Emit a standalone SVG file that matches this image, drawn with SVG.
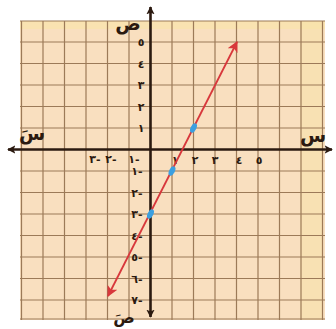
<svg xmlns="http://www.w3.org/2000/svg" width="336" height="329" viewBox="0 0 336 329">
<defs>
<style>
.grid line{stroke:#9c7a58;stroke-width:1.2}
.axis{stroke:#2b1a10;stroke-width:2.6;fill:none}
.num{font-family:"DejaVu Sans",sans-serif;font-size:11px;font-weight:bold;fill:#2b1a10;text-anchor:middle;direction:ltr;unicode-bidi:bidi-override}
.lbl{font-family:"DejaVu Sans",sans-serif;font-size:19px;font-weight:bold;fill:#2b1a10;text-anchor:middle}
.fn{stroke:#d8383c;stroke-width:1.8;fill:none}
.pt{fill:#3b9fe0}
</style>
<marker id="ah" viewBox="0 0 10 10" refX="9" refY="5" markerWidth="3.2" markerHeight="3.2" orient="auto-start-reverse" markerUnits="strokeWidth">
<path d="M0,0 L10,5 L0,10 L2.5,5 z" fill="#2b1a10"/>
</marker>
<marker id="rh" viewBox="0 0 10 10" refX="9" refY="5" markerWidth="6" markerHeight="6" orient="auto-start-reverse" markerUnits="strokeWidth">
<path d="M0,0 L10,5 L0,10 L2.5,5 z" fill="#d8383c"/>
</marker>
</defs>
<rect width="336" height="329" fill="#ffffff"/>
<g id="paper">
<rect x="20" y="21" width="305" height="299" fill="#f9dfbf"/>
<rect x="20" y="21" width="305" height="8" fill="#f8e4a8" opacity="0.6"/>
<rect x="300" y="21" width="22" height="299" fill="#f8e4a8" opacity="0.5"/>
</g>
<g id="grid" class="grid">
<line x1="21.5" y1="21" x2="21.5" y2="320"/>
<line x1="43" y1="21" x2="43" y2="320"/>
<line x1="64.5" y1="21" x2="64.5" y2="320"/>
<line x1="86" y1="21" x2="86" y2="320"/>
<line x1="107.5" y1="21" x2="107.5" y2="320"/>
<line x1="129" y1="21" x2="129" y2="320"/>
<line x1="172" y1="21" x2="172" y2="320"/>
<line x1="193.5" y1="21" x2="193.5" y2="320"/>
<line x1="215" y1="21" x2="215" y2="320"/>
<line x1="236.5" y1="21" x2="236.5" y2="320"/>
<line x1="258" y1="21" x2="258" y2="320"/>
<line x1="279.5" y1="21" x2="279.5" y2="320"/>
<line x1="301" y1="21" x2="301" y2="320"/>
<line x1="322.5" y1="21" x2="322.5" y2="320"/>
<line x1="20" y1="21" x2="325" y2="21"/>
<line x1="20" y1="42" x2="325" y2="42"/>
<line x1="20" y1="63.5" x2="325" y2="63.5"/>
<line x1="20" y1="85" x2="325" y2="85"/>
<line x1="20" y1="106.5" x2="325" y2="106.5"/>
<line x1="20" y1="128" x2="325" y2="128"/>
<line x1="20" y1="171" x2="325" y2="171"/>
<line x1="20" y1="192.5" x2="325" y2="192.5"/>
<line x1="20" y1="214" x2="325" y2="214"/>
<line x1="20" y1="235.5" x2="325" y2="235.5"/>
<line x1="20" y1="257" x2="325" y2="257"/>
<line x1="20" y1="278.5" x2="325" y2="278.5"/>
<line x1="20" y1="300" x2="325" y2="300"/>
<line x1="20" y1="319" x2="325" y2="319"/>
</g>
<g id="axes">
<line class="axis" x1="8" y1="149.5" x2="332" y2="149.5" marker-start="url(#ah)" marker-end="url(#ah)"/>
<line class="axis" x1="150.5" y1="7" x2="150.5" y2="317" marker-start="url(#ah)" marker-end="url(#ah)"/>
</g>
<g id="x-labels" class="num">
<text x="95" y="163">٣-</text>
<text x="111" y="163">٢-</text>
<text x="134" y="163">١-</text>
<text x="175" y="164">١</text>
<text x="195" y="164">٢</text>
<text x="215" y="164">٣</text>
<text x="239" y="164">٤</text>
<text x="259" y="164">٥</text>
</g>
<g id="y-labels" class="num">
<text x="141" y="46">٥</text>
<text x="141" y="67.5">٤</text>
<text x="141" y="89">٣</text>
<text x="141" y="110.5">٢</text>
<text x="141" y="132">١</text>
<text x="137" y="175">١-</text>
<text x="137" y="196.5">٢-</text>
<text x="137" y="218">٣-</text>
<text x="137" y="239.5">٤-</text>
<text x="137" y="261">٥-</text>
<text x="137" y="282.5">٦-</text>
<text x="137" y="304">٧-</text>
</g>
<g id="axis-names" class="lbl">
<text x="128" y="30">ص</text>
<text x="313" y="142">س</text>
<text x="32" y="140">سَ</text>
<text x="124" y="323" font-size="16">صَ</text>
</g>
<g id="connectors">
<line class="fn" x1="108" y1="296" x2="237" y2="42" marker-start="url(#rh)" marker-end="url(#rh)"/>
</g>
<g id="points" class="pt">
<ellipse cx="193.5" cy="128" rx="2.8" ry="5" transform="rotate(27 193.5 128)"/>
<ellipse cx="172" cy="171" rx="2.8" ry="5" transform="rotate(27 172 171)"/>
<ellipse cx="150.5" cy="214" rx="2.8" ry="5" transform="rotate(27 150.5 214)"/>
</g>
</svg>
